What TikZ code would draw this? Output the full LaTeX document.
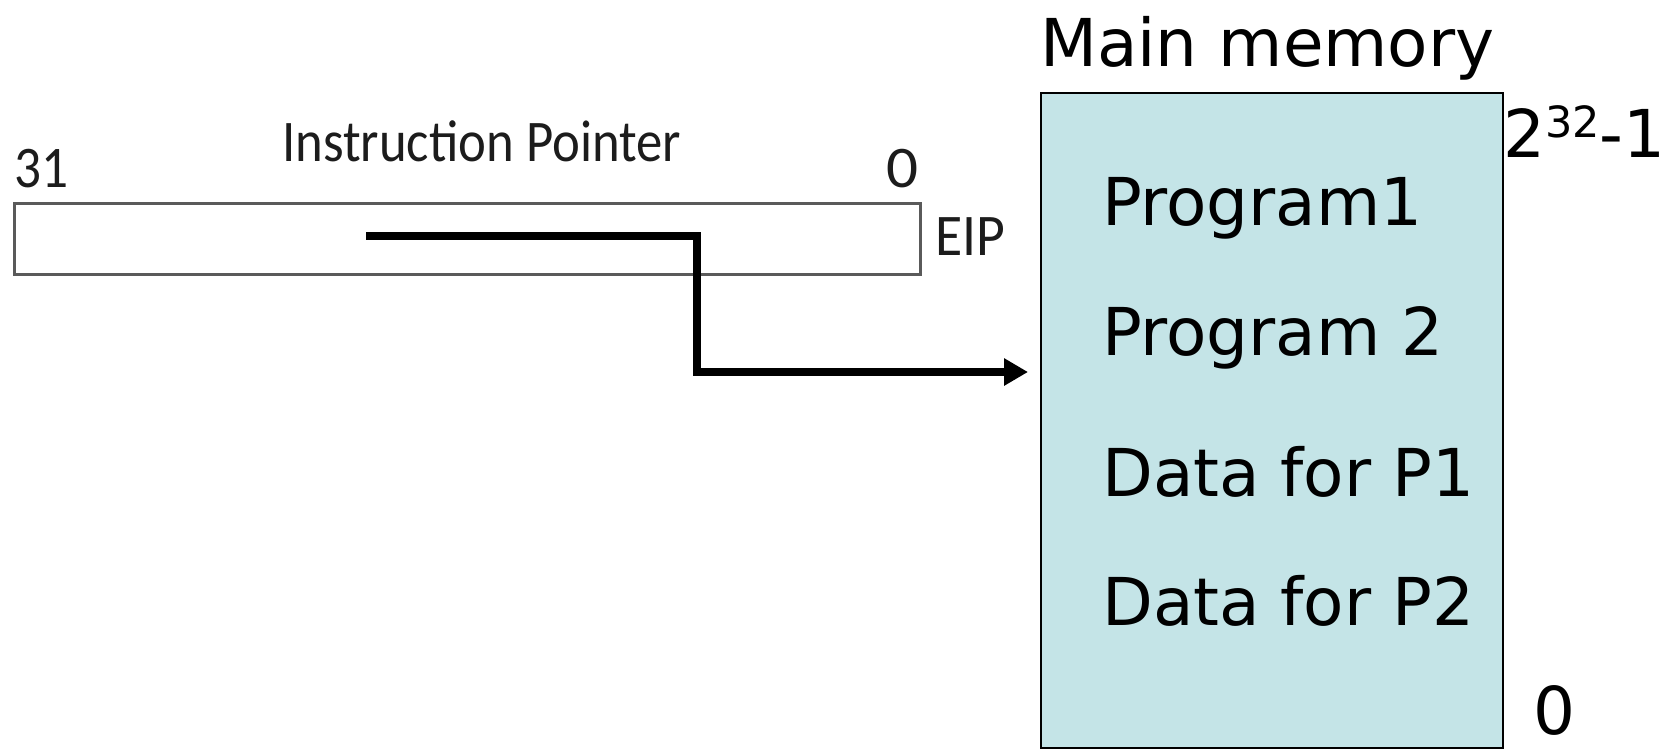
\documentclass[tikz,border=0pt]{standalone}
\usepackage{fontspec}
\usepackage{graphicx}
\setmainfont{DejaVu Sans}
\newfontfamily\regfont{Carlito}
\usetikzlibrary{arrows.meta}
\definecolor{memfill}{RGB}{196,228,231}
\definecolor{regedge}{RGB}{90,90,90}
\definecolor{reglabel}{RGB}{28,28,28}
% register-diagram label: condensed sans, squeezed to a given width
\newcommand\regtext[2]{\resizebox{#1}{\height}{\regfont\fontsize{59}{62}\selectfont #2}}
\begin{document}
\begin{tikzpicture}[x=1pt,y=-1pt,
  memtext/.style={anchor=base west, inner sep=0pt, font=\fontsize{66}{72}\selectfont},
  reglbl/.style={anchor=base west, inner sep=0pt, text=reglabel},
  ptr/.style={line width=8pt, -{Triangle[length=24pt,width=26pt]}}
]
\useasboundingbox (0,0) rectangle (1675,748);

% EIP register
\node[draw=regedge, line width=3pt, anchor=north west, inner sep=0pt,
      minimum width=906pt, minimum height=71pt] (eip) at (13,202) {};
\node[reglbl] (title) at (282,161) {\regtext{399pt}{Instruction Pointer}};
\node[reglbl] (bhi) at (14,187) {\regtext{54pt}{31}};
\node[reglbl] (blo) at (886,187) {\regtext{32pt}{0}};
\node[reglbl] (name) at (935,255) {\regtext{70pt}{EIP}};

% main memory
\node[draw, fill=memfill, line width=2pt, anchor=north west, inner sep=0pt,
      minimum width=462pt, minimum height=655pt] (mem) at (1040,92) {};
\node[memtext] (memtitle) at (1040,66) {Main memory};
\node[memtext] (top) at (1503,157) {2\raisebox{20pt}{\fontsize{43}{46}\selectfont 32}-1};
\node[memtext] (bottom) at (1533,734) {0};
\node[memtext] (p1) at (1102,225) {Program1};
\node[memtext] (p2) at (1102,355) {Program 2};
\node[memtext] (d1) at (1102,496) {Data for P1};
\node[memtext] (d2) at (1102,625) {Data for P2};

% pointer from EIP into memory
\coordinate (src) at (366,236);
\coordinate (tip) at (1028,372);
\draw[ptr] (src) -- (697,236) -- (697,372) -- (tip);
\end{tikzpicture}
\end{document}
